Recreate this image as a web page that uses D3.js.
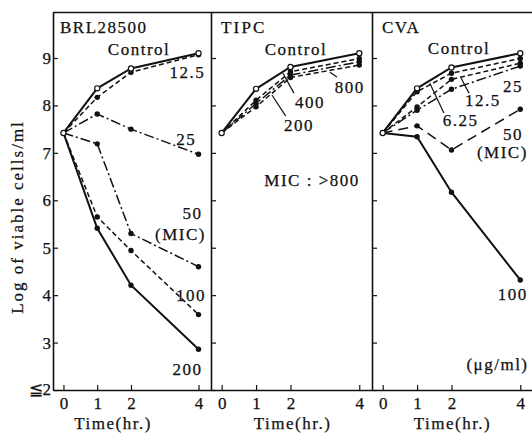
<!DOCTYPE html>
<html>
<head>
<meta charset="utf-8">
<script src="https://cdn.jsdelivr.net/npm/d3@7/dist/d3.min.js"></script>
<style>
  html, body { margin: 0; padding: 0; background: #fff; }
  svg { display: block; font-family: "Liberation Serif", "DejaVu Serif", serif; }
  svg text { stroke: #111; stroke-width: 0.25px; }
</style>
</head>
<body>
<svg id="chart" width="532" height="433"></svg>
<script>
// ── Data ───────────────────────────────────────────────────────────────────

const TIMES   = [0, 1, 2, 4];
const X_TICKS = [0, 1, 2, 4];
const Y_TICKS = [2, 3, 4, 5, 6, 7, 8, 9];

const BRL_CONC   = ['Control', '12.5', '25', '50', '100', '200'];
const BRL_VALUES = [
  [7.42, 8.36, 8.78, 9.10],
  [7.42, 8.17, 8.70, 9.07],
  [7.42, 7.82, 7.50, 6.97],
  [7.42, 7.19, 5.30, 4.60],
  [7.42, 5.65, 4.94, 3.59],
  [7.42, 5.41, 4.21, 2.86],
];

const TIPC_CONC   = ['Control', '200', '400', '800'];
const TIPC_VALUES = [
  [7.42, 8.35, 8.81, 9.10],
  [7.42, 8.11, 8.71, 8.99],
  [7.42, 8.04, 8.64, 8.92],
  [7.42, 7.97, 8.59, 8.85],
];

const CVA_CONC   = ['Control', '6.25', '12.5', '25', '50', '100'];
const CVA_VALUES = [
  [7.42, 8.36, 8.80, 9.10],
  [7.42, 8.29, 8.68, 8.99],
  [7.42, 7.97, 8.55, 8.89],
  [7.42, 7.90, 8.34, 8.83],
  [7.42, 7.57, 7.06, 7.92],
  [7.42, 7.34, 6.17, 4.32],
];

// ── Styles ─────────────────────────────────────────────────────────────────

const DASH = {
  solid:    null,
  dash:     '5,3',
  dashdot:  '10,3,2,3',
  longdash: '10,6',
};

const BRL_STYLE  = ['solid', 'dash', 'dashdot', 'dashdot', 'dash', 'solid'];
const TIPC_STYLE = ['solid', 'dash', 'dashdot', 'dash'];
const CVA_STYLE  = ['solid', 'dash', 'dash', 'dashdot', 'longdash', 'solid'];

const INK = '#111';

// ── Layout ─────────────────────────────────────────────────────────────────

const TOP = 12, BOTTOM = 390;
const PANELS = [
  { title: 'BRL28500', names: BRL_CONC,  values: BRL_VALUES,  styles: BRL_STYLE,  x0: 53,  x1: 211, timeAt: 1.47 },
  { title: 'TIPC',     names: TIPC_CONC, values: TIPC_VALUES, styles: TIPC_STYLE, x0: 211, x1: 372, timeAt: 2.06 },
  { title: 'CVA',      names: CVA_CONC,  values: CVA_VALUES,  styles: CVA_STYLE,  x0: 372, x1: 533, timeAt: 2.03 },
];

// labels placed in data units (t, log count)
const NOTES = [
  [
    { text: 'Control', t: 2.24, v: 9.07, anchor: 'middle' },
    { text: '12.5',    t: 4.20, v: 8.58, anchor: 'end' },
    { text: '25',      t: 3.93, v: 7.17, anchor: 'end' },
    { text: '50',      t: 4.12, v: 5.61, anchor: 'end' },
    { text: '(MIC)',   t: 4.22, v: 5.16, anchor: 'end' },
    { text: '100',     t: 4.22, v: 3.88, anchor: 'end' },
    { text: '200',     t: 4.12, v: 2.32, anchor: 'end' },
  ],
  [
    { text: 'Control',    t: 2.16, v: 9.07, anchor: 'middle' },
    { text: '800',        t: 3.29, v: 8.26 },
    { text: '400',        t: 2.13, v: 7.95 },
    { text: '200',        t: 1.81, v: 7.46 },
    { text: 'MIC : >800', t: 1.24, v: 6.30 },
  ],
  [
    { text: 'Control', t: 2.22, v: 9.09, anchor: 'middle' },
    { text: '25',      t: 3.50, v: 8.28 },
    { text: '12.5',    t: 2.39, v: 7.99 },
    { text: '6.25',    t: 1.75, v: 7.57 },
    { text: '50',      t: 3.50, v: 7.27 },
    { text: '(MIC)',   t: 2.74, v: 6.89 },
    { text: '100',     t: 4.22, v: 3.90, anchor: 'end' },
    { text: '(\u03bcg/ml)', t: 4.24, v: 2.42, anchor: 'end' },
  ],
];

const LEADERS = [
  [],
  [
    [3.15, 8.70, 3.35, 8.60],
    [1.78, 8.68, 2.10, 8.26],
    [1.46, 8.22, 1.86, 7.78],
  ],
  [
    [2.28, 8.58, 2.51, 8.26],
    [1.37, 8.47, 1.78, 7.84],
  ],
];

// ── Render ─────────────────────────────────────────────────────────────────

const svg = d3.select('#chart');
const y = d3.scaleLinear().domain([2, 9.97]).range([BOTTOM, TOP]);

// top frame line
svg.append('line')
  .attr('x1', PANELS[0].x0).attr('x2', PANELS[2].x1)
  .attr('y1', TOP + 0.5).attr('y2', TOP + 0.5)
  .attr('stroke', INK).attr('stroke-width', 1.4);

PANELS.forEach((p, pi) => {
  const x = d3.scaleLinear().domain([-0.31, 4.37]).range([p.x0, p.x1]);
  const g = svg.append('g');

  // left axis (lowest tick gets its own "≦2" label below)
  const yAxis = d3.axisLeft(y)
    .tickValues(Y_TICKS)
    .tickSizeInner(-5)
    .tickSizeOuter(0)
    .tickPadding(2)
    .tickFormat(pi === 0 ? (d => d === Y_TICKS[0] ? '' : d) : '');
  const ya = g.append('g').attr('transform', `translate(${p.x0},0)`).call(yAxis);
  ya.select('.domain').attr('stroke', INK).attr('stroke-width', 1.6);
  ya.selectAll('.tick line').attr('stroke', INK).attr('stroke-width', 1.2);
  ya.selectAll('text').attr('font-size', 17).attr('fill', INK)
    .attr('font-family', '"Liberation Serif",serif');

  // bottom axis
  const xAxis = d3.axisBottom(x)
    .tickValues(X_TICKS)
    .tickSizeInner(-5)
    .tickSizeOuter(0)
    .tickPadding(7)
    .tickFormat(d3.format('d'));
  const xa = g.append('g').attr('transform', `translate(0,${BOTTOM})`).call(xAxis);
  xa.select('.domain').attr('stroke', INK).attr('stroke-width', 1.6);
  xa.selectAll('.tick line').attr('stroke', INK).attr('stroke-width', 1.2);
  xa.selectAll('text').attr('font-size', 17).attr('fill', INK)
    .attr('font-family', '"Liberation Serif",serif');

  g.append('text')
    .attr('x', x(p.timeAt)).attr('y', 429)
    .attr('text-anchor', 'middle')
    .attr('font-size', 17).attr('letter-spacing', 1.5).attr('fill', INK)
    .text('Time(hr.)');

  // panel title
  g.append('text')
    .attr('x', p.x0 + (pi === 0 ? 7 : 10)).attr('y', 33)
    .attr('font-size', 17).attr('letter-spacing', pi === 1 ? 2.2 : 1.5).attr('fill', INK)
    .text(p.title);

  // series lines
  const line = d3.line().x((d, i) => x(TIMES[i])).y(d => y(d));
  p.values.forEach((vals, si) => {
    const st = p.styles[si];
    g.append('path')
      .datum(vals)
      .attr('d', line)
      .attr('fill', 'none')
      .attr('stroke', INK)
      .attr('stroke-width', st === 'solid' ? 2 : 1.5)
      .attr('stroke-dasharray', DASH[st]);
  });

  // markers: filled for treatments, open for control
  p.values.slice().reverse().forEach((vals, ri) => {
    const si = p.values.length - 1 - ri;
    const open = p.names[si] === 'Control';
    g.selectAll(null)
      .data(vals.slice(1))
      .join('circle')
      .attr('cx', (d, i) => x(TIMES[i + 1]))
      .attr('cy', d => y(d))
      .attr('r', open ? 2.6 : 2.7)
      .attr('fill', open ? '#fff' : INK)
      .attr('stroke', INK)
      .attr('stroke-width', open ? 1.2 : 0);
  });
  // shared starting point
  g.append('circle')
    .attr('cx', x(TIMES[0])).attr('cy', y(p.values[0][0]))
    .attr('r', 2.6).attr('fill', '#fff').attr('stroke', INK).attr('stroke-width', 1.2);

  // leader lines
  LEADERS[pi].forEach(([t1, v1, t2, v2]) => {
    g.append('line')
      .attr('x1', x(t1)).attr('y1', y(v1))
      .attr('x2', x(t2)).attr('y2', y(v2))
      .attr('stroke', INK).attr('stroke-width', 1.2);
  });

  // labels
  NOTES[pi].forEach(n => {
    g.append('text')
      .attr('x', x(n.t)).attr('y', y(n.v))
      .attr('text-anchor', n.anchor || 'start')
      .attr('font-size', 17).attr('letter-spacing', 1.5).attr('fill', INK)
      .text(n.text);
  });
});

// "≦2" at the foot of the y axis
const low = svg.append('text')
  .attr('x', PANELS[0].x0 - 2).attr('y', y(Y_TICKS[0]))
  .attr('dy', '0.32em')
  .attr('text-anchor', 'end')
  .attr('font-size', 17).attr('fill', INK);
low.append('tspan').attr('font-family', '"DejaVu Serif",serif').text('\u2266');
low.append('tspan').attr('font-family', '"Liberation Serif",serif').text(Y_TICKS[0]);

// y axis title
svg.append('text')
  .attr('transform', 'translate(17,217) rotate(-90)')
  .attr('text-anchor', 'middle')
  .attr('dominant-baseline', 'central')
  .attr('font-size', 17).attr('letter-spacing', 2).attr('fill', INK)
  .text('Log of viable cells/ml');
</script>
</body>
</html>
